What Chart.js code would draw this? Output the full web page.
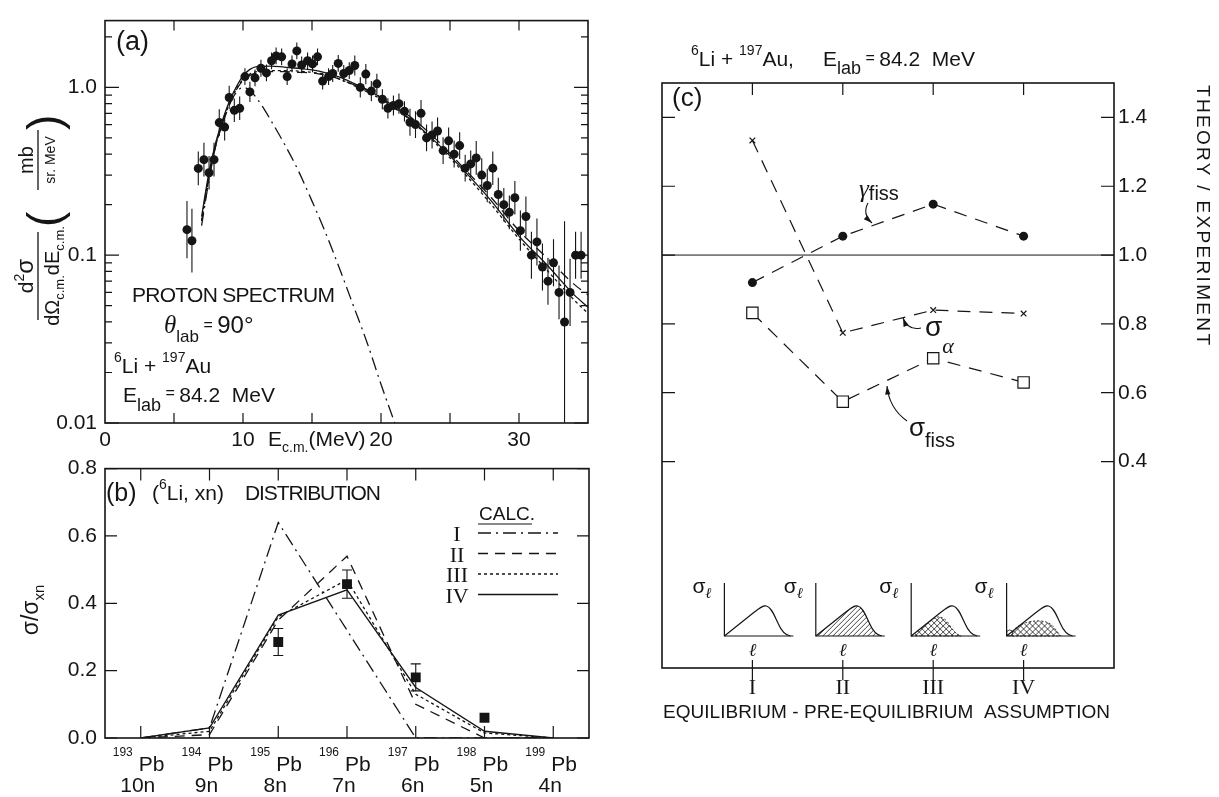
<!DOCTYPE html>
<html>
<head>
<meta charset="utf-8">
<title>6Li + 197Au</title>
<script src="https://cdn.jsdelivr.net/npm/chart.js@4.4.1/dist/chart.umd.min.js"></script>
<style>
  body { margin: 0; background: #fff; }
  #wrap { position: relative; width: 1219px; height: 797px; overflow: hidden; background: #fff; }
  canvas { position: absolute; }
</style>
</head>
<body>
<div id="wrap">
  <canvas id="specChart" width="600" height="460" style="left:0;top:0;width:600px;height:460px"></canvas>
  <canvas id="xnChart" width="600" height="349" style="left:0;top:448px;width:600px;height:349px"></canvas>
  <canvas id="ratioChart" width="599" height="797" style="left:620px;top:0;width:599px;height:797px"></canvas>
</div>
<script>
const INK = '#151515';
const SANS = '"Liberation Sans", Arial, sans-serif';
const SERIF = '"Liberation Serif", "DejaVu Serif", serif';

// (a) proton spectrum
const protonE = [5.94, 6.3, 6.76, 7.17, 7.54, 7.9, 8.28, 8.67, 9.0, 9.37, 9.76, 10.14, 10.5, 10.87, 11.3, 11.7,
  12.07, 12.4, 12.8, 13.2, 13.55, 13.9, 14.25, 14.68, 15.04, 15.4, 15.77, 16.2, 16.5, 16.9, 17.3, 17.7,
  18.1, 18.5, 18.9, 19.3, 19.7, 20.1, 20.5, 20.9, 21.3, 21.7, 22.1, 22.5, 22.9, 23.3, 23.7, 24.1, 24.5, 24.9,
  25.3, 25.7, 26.1, 26.5, 26.9, 27.3, 27.7, 28.1, 28.5, 28.9, 29.3, 29.7, 30.1, 30.5, 30.9, 31.3, 31.7, 32.1,
  32.5, 32.9, 33.3, 33.7, 34.1, 34.5];
const protonSigma = [0.142, 0.122, 0.329, 0.371, 0.31, 0.371, 0.617, 0.58, 0.87, 0.73, 0.75, 1.16, 0.94, 1.14, 1.30, 1.22,
  1.44, 1.54, 1.52, 1.16, 1.38, 1.65, 1.36, 1.44, 1.38, 1.52, 1.09, 1.16, 1.21, 1.39, 1.21, 1.26,
  1.35, 1.0, 1.2, 0.95, 1.05, 0.85, 0.75, 0.78, 0.80, 0.72, 0.62, 0.6, 0.7, 0.5, 0.52, 0.55, 0.42, 0.48,
  0.4, 0.45, 0.33, 0.35, 0.38, 0.3, 0.26, 0.33, 0.23, 0.2, 0.18, 0.22, 0.14, 0.17, 0.1, 0.12, 0.085, 0.07,
  0.09, 0.06, 0.04, 0.06, 0.1, 0.1];
// half length of the error bars, in decades
const protonErr = [0.17, 0.19, 0.1, 0.1, 0.1, 0.1, 0.08, 0.08, 0.07, 0.07, 0.07, 0.05, 0.06, 0.05, 0.05, 0.05,
  0.05, 0.05, 0.05, 0.05, 0.05, 0.05, 0.05, 0.05, 0.05, 0.05, 0.05, 0.05, 0.05, 0.05, 0.05, 0.05,
  0.06, 0.06, 0.06, 0.06, 0.06, 0.06, 0.06, 0.06, 0.06, 0.06, 0.08, 0.08, 0.08, 0.08, 0.08, 0.08, 0.08, 0.08,
  0.08, 0.08, 0.08, 0.08, 0.1, 0.1, 0.1, 0.1, 0.1, 0.1, 0.1, 0.1, 0.12, 0.12, 0.14, 0.14, 0.14, 0.14,
  0.14, 0.16, 0.6, 0.2, 0.14, 0.14];

const calcE = [7, 7.5, 8, 8.5, 9, 9.5, 10, 10.5, 11, 12, 13, 14, 15, 16, 17, 18, 19, 20, 22, 24, 26, 28, 30, 32, 34, 35];
const specCalcII = [0.16, 0.28, 0.44, 0.6, 0.78, 0.96, 1.1, 1.18, 1.22, 1.24, 1.24, 1.23, 1.22, 1.18, 1.12, 1.04, 0.96, 0.87, 0.68, 0.49, 0.33, 0.22, 0.14, 0.097, 0.067, 0.058];
const specCalcIII = [0.16, 0.29, 0.45, 0.61, 0.8, 0.97, 1.12, 1.2, 1.24, 1.26, 1.26, 1.25, 1.23, 1.19, 1.12, 1.03, 0.94, 0.85, 0.65, 0.46, 0.31, 0.2, 0.125, 0.082, 0.054, 0.045];
const specCalcIV = [0.17, 0.3, 0.46, 0.63, 0.82, 1.0, 1.17, 1.28, 1.33, 1.34, 1.32, 1.3, 1.27, 1.22, 1.15, 1.06, 0.97, 0.87, 0.66, 0.47, 0.32, 0.21, 0.13, 0.088, 0.058, 0.049];
const calcIE = [7, 7.5, 8, 8.5, 9, 9.5, 10, 10.5, 11, 11.5, 12, 13, 14, 15, 16, 17, 18, 19, 20, 21];
const specCalcI = [0.15, 0.27, 0.44, 0.62, 0.79, 0.93, 1.0, 0.96, 0.86, 0.75, 0.64, 0.46, 0.32, 0.21, 0.135, 0.083, 0.05, 0.03, 0.017, 0.01];
const specXTicks = [0, 10, 20, 30];
const specYTicks = [0.01, 0.1, 1];
const specYLabels = ['0.01', '0.1', '1.0'];

// (b) (6Li,xn) distribution
const pbMass = [193, 194, 195, 196, 197, 198, 199];
const pbChannel = ['10n', '9n', '8n', '7n', '6n', '5n', '4n'];
const xnCalcI = [0, 0.03, 0.64, 0.32, 0, 0, 0];
const xnCalcII = [0, 0.01, 0.35, 0.54, 0.10, 0, 0];
const xnCalcIII = [0, 0.02, 0.36, 0.47, 0.13, 0.015, 0];
const xnCalcIV = [0, 0.03, 0.365, 0.44, 0.15, 0.02, 0];
const xnExpMass = [195, 196, 197, 198];
const xnExp = [0.285, 0.457, 0.18, 0.06];
const xnExpErr = [0.04, 0.042, 0.04, 0];
const xnYTicks = [0, 0.2, 0.4, 0.6, 0.8];

// (c) theory / experiment
const assumptions = ['I', 'II', 'III', 'IV'];
const gammaFiss = [0.92, 1.055, 1.148, 1.055];
const sigmaAlpha = [1.333, 0.774, 0.84, 0.83];
const sigmaFiss = [0.832, 0.574, 0.70, 0.63];
const ratioTicks = [0.4, 0.6, 0.8, 1.0, 1.2, 1.4];
const unity = 1.0;

const DASH = { I: [13, 5, 2, 5], II: [10, 7], III: [3, 3], IV: [] };

// ---------- helpers ----------
function runs(ctx, parts, x, y, align) {
  // parts: [text, size, dy, family, style]
  const fontOf = p => `${p[4] || ''} ${p[1]}px ${p[3] || SANS}`;
  let w = 0;
  for (const p of parts) { ctx.font = fontOf(p); w += ctx.measureText(p[0]).width; }
  let cx = align === 'center' ? x - w / 2 : x;
  ctx.textAlign = 'left';
  ctx.textBaseline = 'alphabetic';
  for (const p of parts) {
    ctx.font = fontOf(p);
    ctx.fillText(p[0], cx, y + (p[2] || 0));
    cx += ctx.measureText(p[0]).width;
  }
}

function put(ctx, s, x, y, size, width, family) {
  ctx.font = `${size}px ${family || SANS}`;
  ctx.textAlign = 'left';
  ctx.textBaseline = 'alphabetic';
  ctx.letterSpacing = '0px';
  if (width) {
    const w = ctx.measureText(s).width;
    ctx.letterSpacing = ((width - w) / (s.length - 1)) + 'px';
  }
  ctx.fillText(s, x, y);
  ctx.letterSpacing = '0px';
}

function arrow(ctx, x0, y0, cx, cy, x1, y1) {
  ctx.beginPath();
  ctx.moveTo(x0, y0);
  ctx.quadraticCurveTo(cx, cy, x1, y1);
  ctx.stroke();
  const ang = Math.atan2(y1 - cy, x1 - cx);
  ctx.beginPath();
  ctx.moveTo(x1, y1);
  ctx.lineTo(x1 - 9 * Math.cos(ang - 0.3), y1 - 9 * Math.sin(ang - 0.3));
  ctx.lineTo(x1 - 9 * Math.cos(ang + 0.3), y1 - 9 * Math.sin(ang + 0.3));
  ctx.closePath();
  ctx.fill();
}

// box round the plot area plus inward tick marks on all sides
function frame(xt, yt, opts = {}) {
  return {
    id: 'frame',
    afterDatasetsDraw(chart) {
      const { ctx, chartArea: a } = chart;
      const sx = chart.scales.x, sy = chart.scales.y;
      ctx.save();
      ctx.strokeStyle = INK;
      ctx.lineWidth = 1.6;
      ctx.strokeRect(a.left, a.top, a.width, a.height);
      ctx.lineWidth = 1.2;
      ctx.beginPath();
      for (const [v, len] of xt) {
        const p = sx.getPixelForValue(v);
        if (opts.bottom !== false) { ctx.moveTo(p, a.bottom); ctx.lineTo(p, a.bottom - len); }
        ctx.moveTo(p, a.top); ctx.lineTo(p, a.top + len);
      }
      for (const [v, len] of yt) {
        const p = sy.getPixelForValue(v);
        ctx.moveTo(a.left, p); ctx.lineTo(a.left + len, p);
        ctx.moveTo(a.right, p); ctx.lineTo(a.right - len, p);
      }
      ctx.stroke();
      ctx.restore();
    }
  };
}

function curve(xs, ys, dash, smooth) {
  return {
    data: xs.map((x, i) => ({ x, y: ys[i] })),
    showLine: true, pointRadius: 0, borderColor: INK, borderWidth: 1.3,
    borderDash: dash, cubicInterpolationMode: smooth ? 'monotone' : 'default', tension: 0
  };
}

const baseOpts = {
  responsive: false, animation: false, events: [],
  plugins: { legend: { display: false }, tooltip: { enabled: false } }
};
const tickFont = { family: SANS, size: 21 };

// ---------- (a) ----------
const specXt = [];
for (let e = 5; e < 35; e += 5) specXt.push([e, 10]);
const specYt = [];
for (const d of [0.01, 0.1, 1]) {
  specYt.push([d, 14]);
  for (let m = 2; m <= 9; m++) if (d * m < 2.5) specYt.push([d * m, 7]);
}

const specText = {
  id: 'specText',
  beforeDatasetsDraw(chart) {
    const { ctx, chartArea: a, scales: { x, y } } = chart;
    ctx.save();
    ctx.beginPath(); ctx.rect(a.left, a.top, a.width, a.height); ctx.clip();
    ctx.strokeStyle = INK; ctx.lineWidth = 1.1;
    ctx.beginPath();
    protonE.forEach((e, i) => {
      const k = Math.pow(10, protonErr[i]);
      const px = x.getPixelForValue(e);
      ctx.moveTo(px, y.getPixelForValue(protonSigma[i] * k));
      ctx.lineTo(px, y.getPixelForValue(protonSigma[i] / k));
    });
    ctx.stroke();
    ctx.restore();
  },
  afterDraw(chart) {
    const ctx = chart.ctx;
    ctx.save();
    ctx.fillStyle = INK;
    put(ctx, '(a)', 116, 50, 27);
    put(ctx, 'PROTON SPECTRUM', 132, 302, 21, 203);
    runs(ctx, [['θ', 25, 0, SERIF, 'italic'], ['lab', 17, 9], [' = ', 16, -3], ['90°', 24]], 164, 333);
    runs(ctx, [['6', 14, -11], ['Li + ', 21], ['197', 14, -11], ['Au', 21]], 114, 373);
    runs(ctx, [['E', 21], ['lab', 18, 9], [' = ', 16, -4], ['84.2  MeV', 21]], 123, 402);
    runs(ctx, [['E', 21], ['c.m.', 14, 6], ['(MeV)', 21]], 268, 446);

    // rotated y title: d2sigma / (dOmega dE)  (mb / sr. MeV)
    ctx.translate(38, 216);
    ctx.rotate(-Math.PI / 2);
    ctx.strokeStyle = INK; ctx.lineWidth = 1.3;
    ctx.beginPath();
    ctx.moveTo(-104, 0); ctx.lineTo(-16, 0);
    ctx.moveTo(26, 0); ctx.lineTo(86, 0);
    ctx.stroke();
    runs(ctx, [['d', 21], ['2', 14, -9], ['σ', 24]], -60, -5, 'center');
    runs(ctx, [['dΩ', 20], ['c.m.', 13, 5], ['dE', 20], ['c.m.', 13, 5]], -60, 21, 'center');
    ctx.font = `46px ${SANS}`;
    ctx.fillText('(', -11, 22);
    ctx.fillText(')', 86, 22);
    runs(ctx, [['mb', 20]], 56, -5, 'center');
    runs(ctx, [['sr. MeV', 14]], 56, 17, 'center');
    ctx.restore();
  }
};

new Chart(document.getElementById('specChart'), {
  type: 'scatter',
  data: {
    datasets: [
      {
        data: protonE.map((x, i) => ({ x, y: protonSigma[i] })),
        pointRadius: 4.5, pointBackgroundColor: INK, pointBorderWidth: 0, showLine: false
      },
      curve(calcIE, specCalcI, DASH.I, true),
      curve(calcE, specCalcII, DASH.II, true),
      curve(calcE, specCalcIII, DASH.III, true),
      curve(calcE, specCalcIV, DASH.IV, true)
    ]
  },
  options: {
    ...baseOpts,
    layout: { padding: { top: 10, right: 12, left: 0, bottom: 0 } },
    scales: {
      x: {
        type: 'linear', min: 0, max: 35,
        grid: { display: false, drawTicks: false }, border: { display: false },
        afterBuildTicks: s => { s.ticks = specXTicks.map(v => ({ value: v })); },
        ticks: { color: INK, font: tickFont, padding: 5, autoSkip: false, maxRotation: 0 },
        afterFit: s => { s.height = 37; }
      },
      y: {
        type: 'logarithmic', min: 0.01, max: 2.5,
        grid: { display: false, drawTicks: false }, border: { display: false },
        afterBuildTicks: s => { s.ticks = specYTicks.map(v => ({ value: v })); },
        ticks: { color: INK, font: tickFont, padding: 8, autoSkip: false, callback: (v, i) => specYLabels[i] },
        afterFit: s => { s.width = 105; }
      }
    }
  },
  plugins: [specText, frame(specXt, specYt)]
});

// ---------- (b) ----------
const B_TOP = 448;
const xnText = {
  id: 'xnText',
  beforeDatasetsDraw(chart) {
    const { ctx, scales: { x, y } } = chart;
    ctx.save();
    ctx.strokeStyle = INK; ctx.lineWidth = 1.1;
    ctx.beginPath();
    xnExpMass.forEach((m, i) => {
      if (!xnExpErr[i]) return;
      const px = x.getPixelForValue(m);
      const hi = y.getPixelForValue(xnExp[i] + xnExpErr[i]);
      const lo = y.getPixelForValue(xnExp[i] - xnExpErr[i]);
      ctx.moveTo(px, hi); ctx.lineTo(px, lo);
      ctx.moveTo(px - 5, hi); ctx.lineTo(px + 5, hi);
      ctx.moveTo(px - 5, lo); ctx.lineTo(px + 5, lo);
    });
    ctx.stroke();
    ctx.restore();
  },
  afterDraw(chart) {
    const { ctx, scales: { x } } = chart;
    ctx.save();
    ctx.translate(0, -B_TOP);
    ctx.fillStyle = INK; ctx.strokeStyle = INK;
    put(ctx, '(b)', 106, 501, 25);
    runs(ctx, [['(', 21], ['6', 14, -11], ['Li, xn)', 21]], 152, 500);
    put(ctx, 'DISTRIBUTION', 245, 500, 21, 136);

    pbMass.forEach((m, i) => {
      const px = x.getPixelForValue(m);
      ctx.font = `12px ${SANS}`; ctx.textAlign = 'right';
      ctx.fillText(String(m), px - 8, 756);
      ctx.font = `21px ${SANS}`; ctx.textAlign = 'left';
      ctx.fillText('Pb', px - 2, 771);
      ctx.textAlign = 'center';
      ctx.fillText(pbChannel[i], px - 3, 792);
    });

    // legend
    put(ctx, 'CALC.', 479, 520, 19);
    ctx.lineWidth = 1.2;
    ctx.beginPath(); ctx.moveTo(478, 524); ctx.lineTo(532, 524); ctx.stroke();
    const keys = ['I', 'II', 'III', 'IV'];
    keys.forEach((k, i) => {
      const yy = 541 + i * 20.5;
      ctx.font = `22px ${SERIF}`; ctx.textAlign = 'center';
      ctx.fillText(k, 457, yy);
      ctx.setLineDash(DASH[k]);
      ctx.lineWidth = 1.3;
      ctx.beginPath(); ctx.moveTo(478, yy - 8); ctx.lineTo(558, yy - 8); ctx.stroke();
      ctx.setLineDash([]);
    });

    // rotated y title
    ctx.translate(30, 610);
    ctx.rotate(-Math.PI / 2);
    runs(ctx, [['σ/σ', 23], ['xn', 15, 6]], 0, 8, 'center');
    ctx.restore();
  }
};

new Chart(document.getElementById('xnChart'), {
  type: 'scatter',
  data: {
    datasets: [
      curve(pbMass, xnCalcI, DASH.I),
      curve(pbMass, xnCalcII, DASH.II),
      curve(pbMass, xnCalcIII, DASH.III),
      curve(pbMass, xnCalcIV, DASH.IV),
      {
        data: xnExpMass.map((x, i) => ({ x, y: xnExp[i] })),
        pointStyle: 'rect', pointRadius: 7, pointBackgroundColor: INK, pointBorderWidth: 0, showLine: false
      }
    ]
  },
  options: {
    ...baseOpts,
    layout: { padding: { top: 15, right: 11, left: 0, bottom: 59 } },
    scales: {
      x: { type: 'linear', min: 192.48, max: 199.52, display: false },
      y: {
        type: 'linear', min: 0, max: 0.8,
        grid: { display: false, drawTicks: false }, border: { display: false },
        afterBuildTicks: s => { s.ticks = xnYTicks.map(v => ({ value: v })); },
        ticks: { color: INK, font: tickFont, padding: 8, autoSkip: false, callback: v => v.toFixed(1) },
        afterFit: s => { s.width = 105; }
      }
    }
  },
  plugins: [xnText, frame(pbMass.map(m => [m, 12]), xnYTicks.map(v => [v, 12]))]
});

// ---------- (c) ----------
const C_LEFT = 620;
const insetShift = [-28, -27, -22, -17];

function insetOuter(ctx, ox, oy) {
  ctx.moveTo(ox, oy);
  ctx.lineTo(ox + 30, oy - 24);
  ctx.bezierCurveTo(ox + 35, oy - 28, ox + 38, oy - 30.5, ox + 42, oy - 30);
  ctx.bezierCurveTo(ox + 47, oy - 29, ox + 50, oy - 20, ox + 54, oy - 12);
  ctx.bezierCurveTo(ox + 57, oy - 5, ox + 60, oy - 1, ox + 66, oy);
}
function insetInner(ctx, ox, oy, k) {
  if (k === 2) {
    ctx.moveTo(ox, oy);
    ctx.lineTo(ox + 22, oy - 17);
    ctx.bezierCurveTo(ox + 27, oy - 21, ox + 33, oy - 19, ox + 37, oy - 13);
    ctx.bezierCurveTo(ox + 41, oy - 7, ox + 44, oy - 2, ox + 50, oy);
  } else {
    ctx.moveTo(ox + 5, oy);
    ctx.bezierCurveTo(ox + 6, oy - 6, ox + 10, oy - 10, ox + 16, oy - 12);
    ctx.bezierCurveTo(ox + 25, oy - 16, ox + 40, oy - 17, ox + 46, oy - 10);
    ctx.bezierCurveTo(ox + 50, oy - 6, ox + 52, oy - 2, ox + 54, oy);
  }
  ctx.closePath();
}
function hatch(ctx, ox, oy, dirs, gap) {
  ctx.beginPath();
  for (const d of dirs) {
    for (let t = -70; t < 140; t += gap) {
      ctx.moveTo(ox + t, oy + 2);
      ctx.lineTo(ox + t + d * 40, oy - 38);
    }
  }
  ctx.stroke();
}

const ratioText = {
  id: 'ratioText',
  afterDraw(chart) {
    const { ctx, scales: { x } } = chart;
    ctx.save();
    ctx.translate(-C_LEFT, 0);
    ctx.fillStyle = INK; ctx.strokeStyle = INK;

    runs(ctx, [['6', 14, -11], ['Li + ', 21], ['197', 14, -11], ['Au,', 21]], 691, 66);
    runs(ctx, [['E', 21], ['lab', 18, 8], [' = ', 16, -3], ['84.2  MeV', 21]], 823, 66);
    put(ctx, '(c)', 672, 106, 26);

    // annotations
    ctx.lineWidth = 1.1;
    runs(ctx, [['γ', 25, 0, SERIF, 'italic'], ['fiss', 20, 3]], 859, 197);
    arrow(ctx, 868, 203, 862, 214, 872, 223);
    runs(ctx, [['σ', 28], ['α', 22, 17, SERIF, 'italic']], 925, 336);
    arrow(ctx, 921, 328, 908, 331, 903, 318);
    runs(ctx, [['σ', 26], ['fiss', 20, 11]], 909, 436);
    arrow(ctx, 907, 421, 889, 408, 887, 386);

    // schematic l-distributions
    assumptions.forEach((lab, k) => {
      const cx = x.getPixelForValue(k + 1) + C_LEFT;
      const ox = cx + insetShift[k], oy = 636;
      ctx.lineWidth = 1.2;
      ctx.beginPath();
      ctx.moveTo(ox, oy - 53); ctx.lineTo(ox, oy); ctx.lineTo(ox + 69, oy);
      ctx.stroke();
      ctx.beginPath(); insetOuter(ctx, ox, oy); ctx.stroke();
      ctx.lineWidth = 0.8;
      if (k === 1) {
        ctx.save();
        ctx.beginPath(); insetOuter(ctx, ox, oy); ctx.closePath(); ctx.clip();
        hatch(ctx, ox, oy, [1], 5);
        ctx.restore();
      }
      if (k >= 2) {
        ctx.save();
        ctx.beginPath(); insetInner(ctx, ox, oy, k); ctx.clip();
        hatch(ctx, ox, oy, [1, -1], 6);
        ctx.restore();
        ctx.setLineDash([2, 2]);
        ctx.beginPath(); insetInner(ctx, ox, oy, k); ctx.stroke();
        ctx.setLineDash([]);
        if (k === 3) { ctx.beginPath(); ctx.arc(ox + 3, oy - 3, 3, 0, Math.PI * 2); ctx.stroke(); }
      }
      runs(ctx, [['σ', 21], ['ℓ', 15, 5, SERIF, 'italic']], ox - 32, 593);
      ctx.font = `italic 18px ${SERIF}`; ctx.textAlign = 'center';
      ctx.fillText('ℓ', cx, 656);
      ctx.lineWidth = 1.2;
      ctx.beginPath(); ctx.moveTo(cx, 660); ctx.lineTo(cx, 680); ctx.stroke();
      ctx.font = `22px ${SERIF}`;
      ctx.fillText(lab, cx, 694);
    });

    put(ctx, 'EQUILIBRIUM - PRE-EQUILIBRIUM  ASSUMPTION', 663, 718, 19, 447);

    ctx.translate(1197, 215);
    ctx.rotate(Math.PI / 2);
    put(ctx, 'THEORY / EXPERIMENT', -130, 0, 19, 260);
    ctx.restore();
  }
};

function ratioSet(ys, style, radius, fill) {
  return {
    data: ys.map((y, i) => ({ x: i + 1, y })),
    showLine: true, borderColor: INK, borderWidth: 1.2, borderDash: [13, 9],
    pointStyle: style, pointRadius: radius, pointBackgroundColor: fill,
    pointBorderColor: INK, pointBorderWidth: style === 'circle' ? 0 : 1.2
  };
}

new Chart(document.getElementById('ratioChart'), {
  type: 'scatter',
  data: {
    datasets: [
      { data: [{ x: 0, y: unity }, { x: 5, y: unity }], showLine: true, pointRadius: 0, borderColor: INK, borderWidth: 1 },
      ratioSet(gammaFiss, 'circle', 4.5, INK),
      ratioSet(sigmaAlpha, 'crossRot', 4, INK),
      ratioSet(sigmaFiss, 'rect', 8, '#fff')
    ]
  },
  options: {
    ...baseOpts,
    layout: { padding: { top: 83, right: 0, left: 42, bottom: 129 } },
    scales: {
      x: { type: 'linear', min: 0, max: 5, display: false },
      y: {
        type: 'linear', position: 'right', min: -0.2, max: 1.5,
        grid: { display: false, drawTicks: false }, border: { display: false },
        afterBuildTicks: s => { s.ticks = ratioTicks.map(v => ({ value: v })); },
        ticks: { color: INK, font: tickFont, padding: 4, autoSkip: false, callback: v => v.toFixed(1) },
        afterFit: s => { s.width = 105; }
      }
    }
  },
  plugins: [ratioText, frame(assumptions.map((a, i) => [i + 1, 12]), ratioTicks.map(v => [v, 13]), { bottom: false })]
});
</script>
</body>
</html>
